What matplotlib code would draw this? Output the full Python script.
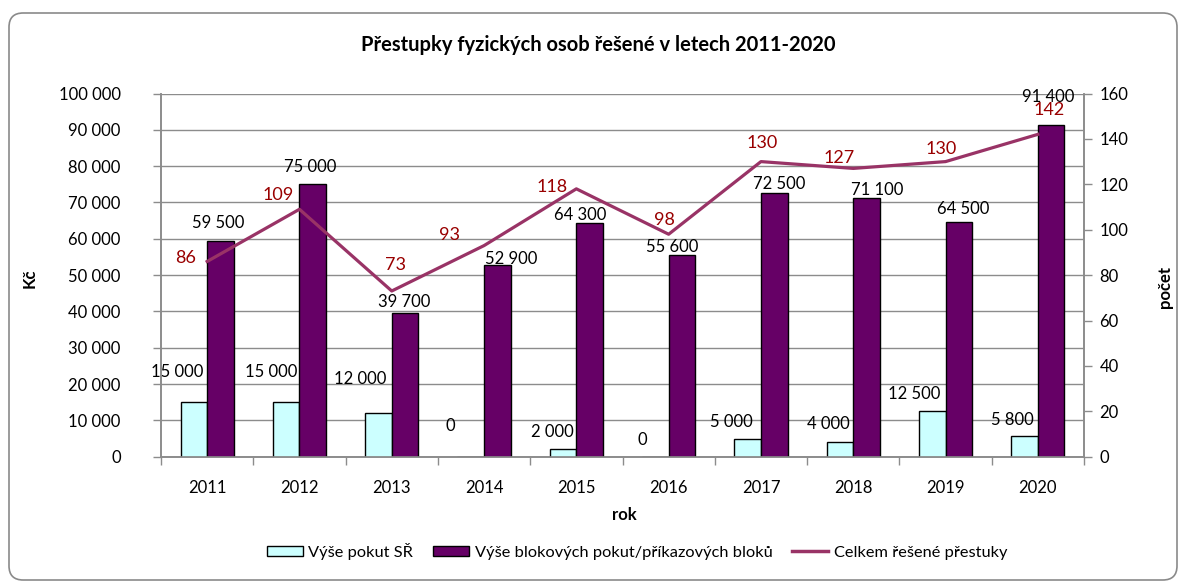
import matplotlib.pyplot as plt
import numpy as np
from matplotlib.lines import Line2D
from matplotlib.patches import FancyBboxPatch, Patch

years = ["2011", "2012", "2013", "2014", "2015", "2016", "2017", "2018", "2019", "2020"]
pokuty_sr = [15000, 15000, 12000, 0, 2000, 0, 5000, 4000, 12500, 5800]
blokove_pokuty = [59500, 75000, 39700, 52900, 64300, 55600, 72500, 71100, 64500, 91400]
celkem_prestupky = [86, 109, 73, 93, 118, 98, 130, 127, 130, 142]

# label offsets in pixels (dx, dy up)
SR_OFFSETS = [(-17, 30), (-15, 30), (-18, 34), (-20, 31), (-11, 17),
              (-13, 17), (-16, 17), (-12, 18), (-18, 17), (-12, 16)]
BLOK_OFFSETS = [(-2, 18), (-3, 17), (-1, 11), (14, 6), (-9, 8),
                (-10, 8), (5, 9), (11, 8), (4, 13), (-3, 28)]
LINE_OFFSETS = [(-22, 3), (-21, 14), (4, 26), (-35, 11), (-24, 2),
                (-4, 14), (1, 19), (-14, 10), (-4, 13), (11, 24)]

CYAN = "#CCFFFF"
PURPLE = "#660066"
LINE = "#993366"
LABEL_RED = "#990000"
GRID = "#8c8c8c"
W, H = 1179, 581


def fmt(v):
    return f"{v:,}".replace(",", " ")


plt.rcParams["font.family"] = ["Lato", "DejaVu Sans"]
fig = plt.figure(figsize=(W / 100, H / 100), dpi=100)

border = FancyBboxPatch(
    (9 / W, 1 / H), 1168 / W, 567 / H,
    boxstyle="round,pad=0,rounding_size=0.012", mutation_aspect=W / H,
    transform=fig.transFigure, facecolor="none", edgecolor="#8a8a8a", linewidth=1.2,
    zorder=-5,
)
fig.patches.append(border)

ax = fig.add_axes([161 / W, 1 - 456.7 / H, 923 / W, 363.2 / H])
ax2 = ax.twinx()
ax.patch.set_visible(False)
ax2.patch.set_visible(False)

x = np.arange(len(years))
bw = 0.288
bars_sr = ax.bar(x - bw / 2, pokuty_sr, bw, color=CYAN, edgecolor="black", linewidth=1, zorder=3)
bars_blok = ax.bar(x + bw / 2, blokove_pokuty, bw, color=PURPLE, edgecolor="black", linewidth=1, zorder=3)
ax2.plot(x, celkem_prestupky, color=LINE, linewidth=2.3, zorder=4)

ax.set_xlim(-0.5, len(years) - 0.5)
ax.set_ylim(0, 100000)
ax2.set_ylim(0, 160)
ax.set_yticks(np.arange(0, 100001, 10000))
ax.set_yticklabels([fmt(v) for v in range(0, 100001, 10000)])
ax2.set_yticks(np.arange(0, 161, 20))
ax.grid(axis="y", color=GRID, linewidth=1, zorder=0)
ax.set_axisbelow(True)

ax.set_xticks(x)
ax.set_xticklabels(years)
ax.set_xticks(np.arange(-0.5, len(years)), minor=True)
ax.tick_params(axis="x", which="major", length=0, pad=17, labelsize=12)
ax.tick_params(axis="x", which="minor", length=6, color=GRID, width=1)
ax.tick_params(axis="y", length=6, color=GRID, width=1, pad=23, labelsize=12)
ax2.tick_params(axis="y", length=6, color=GRID, width=1, pad=5, labelsize=12)

for a in (ax, ax2):
    a.spines["top"].set_visible(False)
    for s in ("left", "right", "bottom"):
        a.spines[s].set_color(GRID)
        a.spines[s].set_linewidth(1.2)

for bar, v, (dx, dy) in zip(bars_sr, pokuty_sr, SR_OFFSETS):
    ax.annotate(fmt(v), (bar.get_x() + bar.get_width() / 2, v), xytext=(dx, dy),
                textcoords="offset pixels", ha="center", va="center", fontsize=12, zorder=5)
for bar, v, (dx, dy) in zip(bars_blok, blokove_pokuty, BLOK_OFFSETS):
    ax.annotate(fmt(v), (bar.get_x() + bar.get_width() / 2, v), xytext=(dx, dy),
                textcoords="offset pixels", ha="center", va="center", fontsize=12, zorder=5)
for xi, v, (dx, dy) in zip(x, celkem_prestupky, LINE_OFFSETS):
    ax2.annotate(str(v), (xi, v), xytext=(dx, dy), textcoords="offset pixels",
                 ha="center", va="center", fontsize=13, color=LABEL_RED, zorder=5)

fig.text(598 / W, 1 - 45 / H, "Přestupky fyzických osob řešené v letech 2011-2020",
         ha="center", va="center", fontsize=14.5, fontweight="bold")
fig.text(624 / W, 1 - 515 / H, "rok", ha="center", va="center", fontsize=12, fontweight="bold")
fig.text(30 / W, 1 - 278 / H, "Kč", ha="center", va="center", rotation=90,
         fontsize=12, fontweight="bold")
fig.text(1165 / W, 1 - 287 / H, "počet", ha="center", va="center", rotation=90,
         fontsize=12, fontweight="bold")

handles = [
    Patch(facecolor=CYAN, edgecolor="black", linewidth=1),
    Patch(facecolor=PURPLE, edgecolor="black", linewidth=1),
    Line2D([], [], color=LINE, linewidth=2.5),
]
labels = ["Výše pokut SŘ", "Výše blokových pokut/příkazových bloků", "Celkem řešené přestuky"]
fig.legend(handles, labels, loc="center", bbox_to_anchor=(637 / W, 1 - 551 / H), ncol=3,
           frameon=False, fontsize=11.8, handlelength=2.2, handleheight=0.55,
           handletextpad=0.35, columnspacing=1.2)

fig.savefig("out.png", dpi=100)
